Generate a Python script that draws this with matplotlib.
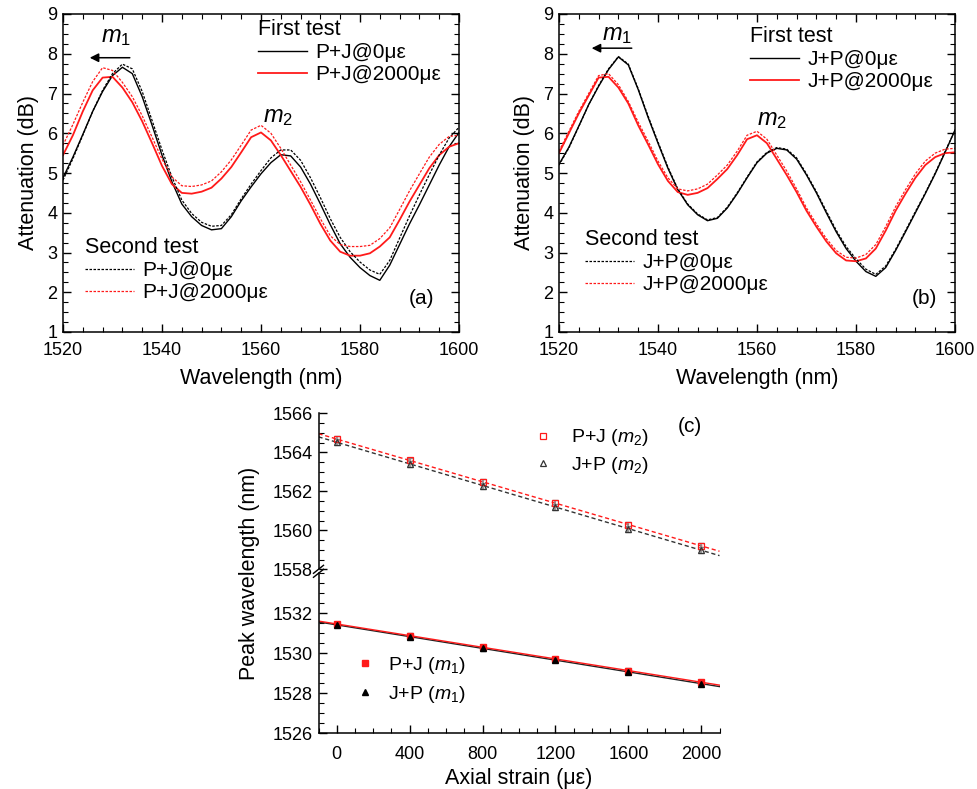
import numpy as np
import matplotlib
matplotlib.use('Agg')
import matplotlib.pyplot as plt
from matplotlib.ticker import MultipleLocator

plt.rcParams['font.family'] = ['Liberation Sans', 'DejaVu Sans']
plt.rcParams['mathtext.fontset'] = 'custom'
plt.rcParams['mathtext.rm'] = 'Liberation Sans'
plt.rcParams['mathtext.it'] = 'Liberation Sans:italic'

# ---- spectra, sampled every 2 nm from 1520 to 1600 nm ----
wl = np.arange(1520, 1601, 2)

pj_0_first = [4.88, 5.40, 5.97, 6.55, 7.05, 7.45, 7.66, 7.50, 6.92, 6.20, 5.45, 4.78, 4.22, 3.90,
              3.68, 3.57, 3.60, 3.90, 4.30, 4.65, 4.98, 5.26, 5.46, 5.43, 5.15, 4.72, 4.22, 3.70,
              3.22, 2.88, 2.62, 2.42, 2.30, 2.68, 3.20, 3.72, 4.20, 4.70, 5.20, 5.66, 6.02]
pj_0_second = [4.82, 5.36, 5.95, 6.55, 7.08, 7.50, 7.74, 7.62, 7.05, 6.32, 5.58, 4.90, 4.32, 3.98,
               3.76, 3.66, 3.68, 3.95, 4.35, 4.72, 5.06, 5.38, 5.58, 5.58, 5.32, 4.88, 4.38, 3.85,
               3.38, 3.02, 2.76, 2.56, 2.45, 2.80, 3.36, 3.92, 4.45, 4.96, 5.45, 5.88, 6.15]
pj_2000_first = [5.45, 5.95, 6.55, 7.08, 7.40, 7.42, 7.15, 6.78, 6.30, 5.75, 5.18, 4.72, 4.50, 4.48,
                 4.53, 4.63, 4.86, 5.15, 5.52, 5.90, 6.02, 5.82, 5.45, 5.05, 4.65, 4.20, 3.72, 3.30,
                 3.02, 2.92, 2.92, 2.98, 3.15, 3.38, 3.82, 4.28, 4.70, 5.12, 5.45, 5.66, 5.75]
pj_2000_second = [5.70, 6.22, 6.78, 7.30, 7.65, 7.58, 7.28, 6.92, 6.44, 5.90, 5.35, 4.90, 4.68, 4.66,
                  4.70, 4.80, 5.03, 5.33, 5.70, 6.08, 6.20, 6.00, 5.62, 5.20, 4.78, 4.32, 3.85, 3.42,
                  3.20, 3.15, 3.15, 3.18, 3.35, 3.62, 4.08, 4.55, 4.98, 5.40, 5.72, 5.92, 5.95]

jp_0_first = [5.22, 5.65, 6.18, 6.72, 7.18, 7.60, 7.92, 7.72, 7.10, 6.40, 5.75, 5.12, 4.58, 4.20,
              3.95, 3.80, 3.86, 4.12, 4.48, 4.88, 5.26, 5.50, 5.62, 5.58, 5.35, 4.95, 4.50, 4.00,
              3.52, 3.10, 2.78, 2.52, 2.40, 2.62, 3.05, 3.52, 4.00, 4.48, 4.98, 5.52, 6.08]
jp_0_second = [5.20, 5.63, 6.17, 6.72, 7.20, 7.62, 7.93, 7.74, 7.12, 6.43, 5.78, 5.15, 4.60, 4.22,
               3.97, 3.82, 3.88, 4.14, 4.50, 4.90, 5.28, 5.52, 5.64, 5.60, 5.38, 4.98, 4.53, 4.04,
               3.56, 3.15, 2.84, 2.58, 2.45, 2.66, 3.08, 3.55, 4.03, 4.50, 5.00, 5.54, 6.08]
jp_2000_first = [5.50, 6.00, 6.50, 6.95, 7.40, 7.42, 7.15, 6.75, 6.20, 5.72, 5.22, 4.80, 4.52, 4.45,
                 4.50, 4.62, 4.85, 5.10, 5.45, 5.85, 5.95, 5.75, 5.35, 4.95, 4.52, 4.05, 3.65, 3.28,
                 2.98, 2.80, 2.78, 2.85, 3.10, 3.55, 4.05, 4.48, 4.88, 5.20, 5.40, 5.50, 5.52]
jp_2000_second = [5.55, 6.05, 6.55, 7.00, 7.45, 7.50, 7.22, 6.80, 6.28, 5.80, 5.30, 4.88, 4.60, 4.55,
                  4.60, 4.72, 4.95, 5.20, 5.55, 5.95, 6.05, 5.85, 5.45, 5.05, 4.60, 4.12, 3.72, 3.35,
                  3.05, 2.88, 2.86, 2.95, 3.20, 3.65, 4.15, 4.58, 4.98, 5.30, 5.50, 5.60, 5.62]

# ---- peak wavelength vs strain ----
strain = [0, 400, 800, 1200, 1600, 2000]
m2_pj = [1564.68, 1563.58, 1562.48, 1561.42, 1560.28, 1559.20]
m2_jp = [1564.52, 1563.42, 1562.28, 1561.20, 1560.06, 1559.00]
m1_pj = [1531.47, 1530.88, 1530.30, 1529.72, 1529.13, 1528.56]
m1_jp = [1531.42, 1530.83, 1530.25, 1529.66, 1529.07, 1528.48]
err_m2 = [0.15, 0.15, 0.15, 0.15, 0.15, 0.15]
err_m1 = [0.12, 0.12, 0.12, 0.12, 0.12, 0.12]

RED = '#ff1a1a'
DOT = (0, (2, 1.2))

fig = plt.figure(figsize=(9.77, 7.89), dpi=100)


def px_axes(left, top, right, bottom):
    return fig.add_axes([left / 977, 1 - bottom / 789, (right - left) / 977, (bottom - top) / 789])


def spectrum(ax, s0a, s0b, s2a, s2b, name, tag, tagx, arrow, m1xy, m2xy, leg1, leg2):
    l1, = ax.plot(wl, s0a, color='black', lw=1.0)
    l2, = ax.plot(wl, s2a, color=RED, lw=1.3)
    l3, = ax.plot(wl, s0b, color='black', lw=0.9, ls=DOT)
    l4, = ax.plot(wl, s2b, color=RED, lw=0.9, ls=DOT)
    ax.set_xlim(1520, 1600)
    ax.set_ylim(1, 9)
    ax.xaxis.set_major_locator(MultipleLocator(20))
    ax.xaxis.set_minor_locator(MultipleLocator(4))
    ax.yaxis.set_major_locator(MultipleLocator(1))
    ax.yaxis.set_minor_locator(MultipleLocator(0.25))
    ax.tick_params(which='both', direction='in', top=True, right=True, labelsize=13, pad=4)
    ax.tick_params(axis='x', which='both', pad=7)
    ax.tick_params(which='major', length=6, width=1)
    ax.tick_params(which='minor', length=3.5, width=0.8)
    for sp in ax.spines.values():
        sp.set_linewidth(1.1)
    ax.set_xlabel('Wavelength (nm)', fontsize=15.5, labelpad=7)
    ax.set_ylabel('Attenuation (dB)', fontsize=15.5, labelpad=6)

    lab0 = name + '@0\u03bc\u03b5'
    lab2 = name + '@2000\u03bc\u03b5'
    kw = dict(loc='upper left', frameon=False, fontsize=15, title_fontsize=15.5,
              alignment='left', handlelength=2.35, handletextpad=0.4,
              labelspacing=0.15, borderpad=0, borderaxespad=0)
    lg = ax.legend([l1, l2], [lab0, lab2], title='First test', bbox_to_anchor=leg1, **kw)
    ax.add_artist(lg)
    ax.legend([l3, l4], [lab0, lab2], title='Second test', bbox_to_anchor=leg2, **kw)

    ax.annotate('', xy=(arrow[0], arrow[2]), xytext=(arrow[1], arrow[2]),
                arrowprops=dict(arrowstyle='-|>', color='black', lw=1.1, mutation_scale=13,
                                shrinkA=0, shrinkB=0))
    ax.text(m1xy[0], m1xy[1], r'$m_1$', fontsize=17, ha='center', va='center')
    ax.text(m2xy[0], m2xy[1], r'$m_2$', fontsize=17, ha='center', va='center')
    ax.text(tagx, 0.106, tag, transform=ax.transAxes, fontsize=15, ha='center', va='center')


ax_a = px_axes(63, 14, 459, 332)
spectrum(ax_a, pj_0_first, pj_0_second, pj_2000_first, pj_2000_second, 'P+J', '(a)', 0.906,
         (1525.4, 1533.5, 7.9), (1530.8, 8.43), (1563.5, 6.42), (0.492, 0.984), (0.056, 0.299))

ax_b = px_axes(559, 14, 955, 332)
spectrum(ax_b, jp_0_first, jp_0_second, jp_2000_first, jp_2000_second, 'J+P', '(b)', 0.924,
         (1526.6, 1534.7, 8.14), (1531.7, 8.47), (1563.0, 6.33), (0.482, 0.962), (0.066, 0.324))

# ---- panel (c) with broken y axis ----
ax_top = px_axes(318.5, 413.3, 719.5, 569.3)
ax_bot = px_axes(318.5, 573.3, 719.5, 733.3)
fit_x = np.array([-100, 2100])

for ax in (ax_top, ax_bot):
    ax.set_xlim(-100, 2100)
    ax.spines['top'].set_visible(False)
    ax.spines['right'].set_visible(False)
    ax.spines['left'].set_linewidth(1.1)
    ax.spines['bottom'].set_linewidth(1.1)
    ax.xaxis.set_major_locator(MultipleLocator(400))
    ax.xaxis.set_minor_locator(MultipleLocator(100))
    ax.yaxis.set_major_locator(MultipleLocator(2))
    ax.yaxis.set_minor_locator(MultipleLocator(0.5))
    ax.tick_params(which='both', direction='in', labelsize=13, pad=4)
    ax.tick_params(axis='x', which='both', pad=9)
    ax.tick_params(which='major', length=6, width=1)
    ax.tick_params(which='minor', length=3.5, width=0.8)

ax_top.spines['bottom'].set_visible(False)
ax_top.tick_params(which='both', bottom=False, labelbottom=False)
ax_top.set_ylim(1558, 1566)
ax_bot.set_ylim(1526, 1534)
ax_bot.set_yticks([1526, 1528, 1530, 1532])

# fitted lines
for ys, col in ((m2_pj, RED), (m2_jp, '#333333')):
    p = np.polyfit(strain, ys, 1)
    ax_top.plot(fit_x, np.polyval(p, fit_x), color=col, lw=1.0, ls=(0, (3, 2)))
for ys, col in ((m1_jp, '#222222'), (m1_pj, RED)):
    p = np.polyfit(strain, ys, 1)
    ax_bot.plot(fit_x, np.polyval(p, fit_x), color=col, lw=1.0)

ebkw = dict(fmt='none', ecolor='#888888', elinewidth=1.2, capsize=2.5, capthick=1)
ax_top.errorbar(strain, m2_pj, yerr=err_m2, **ebkw)
ax_top.errorbar(strain, m2_jp, yerr=err_m2, **ebkw)
ax_bot.errorbar(strain, m1_pj, yerr=err_m1, **ebkw)
ax_bot.errorbar(strain, m1_jp, yerr=err_m1, **ebkw)

h1, = ax_top.plot(strain, m2_pj, 's', ms=5, mfc='none', mec=RED, mew=0.9, label='P+J ($m_2$)')
h2, = ax_top.plot(strain, m2_jp, '^', ms=5, mfc='none', mec='#333333', mew=0.9, label='J+P ($m_2$)')
h3, = ax_bot.plot(strain, m1_pj, 's', ms=5, color=RED, label='P+J ($m_1$)')
h4, = ax_bot.plot(strain, m1_jp, '^', ms=5, color='black', label='J+P ($m_1$)')

ax_top.legend(handles=[h1, h2], loc='upper left', bbox_to_anchor=(0.541, 0.91), frameon=False,
              fontsize=14, handlelength=0.8, handletextpad=1.05, labelspacing=0.35,
              borderpad=0, borderaxespad=0, numpoints=1)
ax_bot.legend(handles=[h3, h4], loc='upper left', bbox_to_anchor=(0.0965, 0.49), frameon=False,
              fontsize=14, handlelength=0.8, handletextpad=0.8, labelspacing=0.4,
              borderpad=0, borderaxespad=0, numpoints=1)

ax_top.text(0.926, 0.914, '(c)', transform=ax_top.transAxes, fontsize=15, ha='center', va='center')

# break marks on the left spine
dx, dy = 0.0125, 0.025
for yc in (1.025, 1.0):
    ax_bot.plot([-dx, dx], [yc - dy, yc + dy], transform=ax_bot.transAxes,
                color='black', lw=1.0, clip_on=False)

ax_bot.set_xlabel('Axial strain (\u03bc\u03b5)', fontsize=15.5, labelpad=4)
fig.text(250 / 977, 1 - 573 / 789, 'Peak wavelength (nm)', rotation=90, fontsize=15.5,
         ha='center', va='center')

fig.savefig('out.png', dpi=100)
